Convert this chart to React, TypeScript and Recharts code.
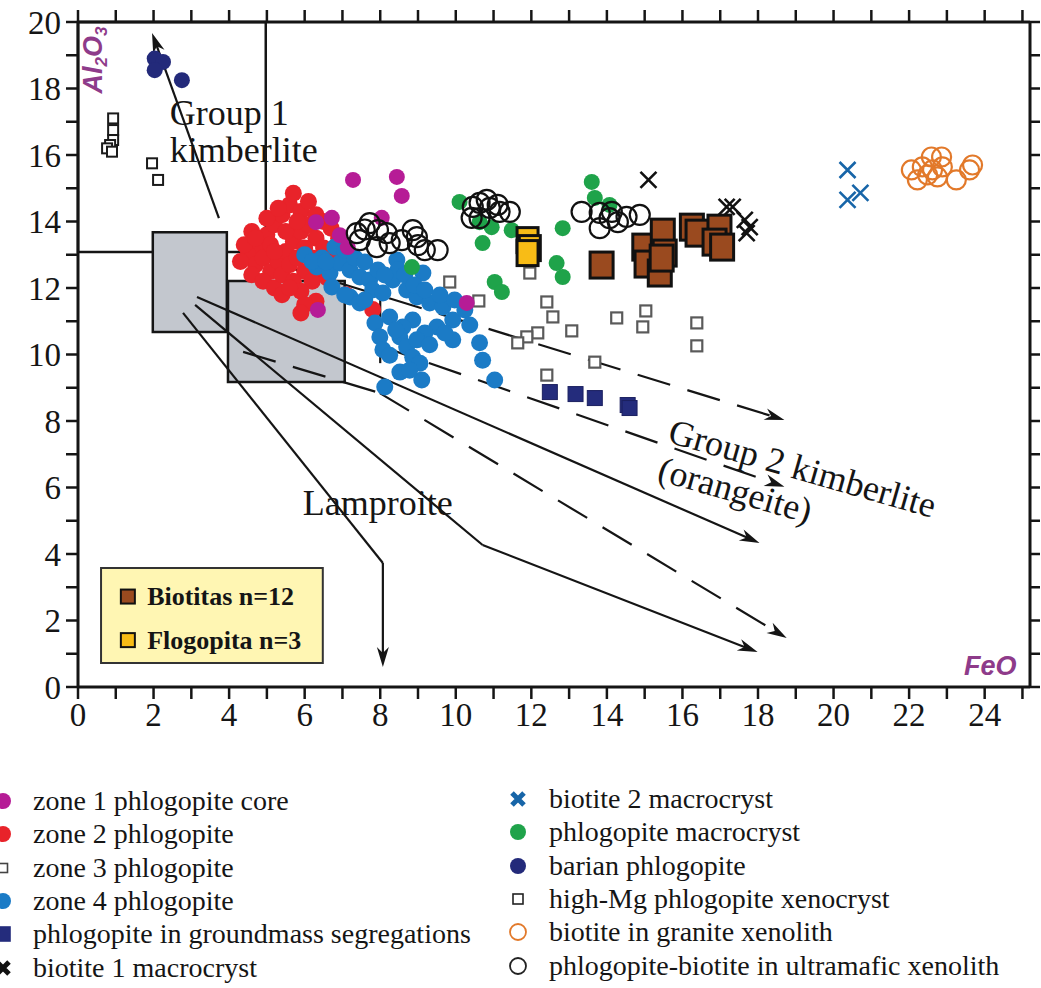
import React from 'react'
import {
  ScatterChart,
  Scatter,
  XAxis,
  YAxis,
  ReferenceArea,
  ReferenceLine,
  ReferenceDot,
} from 'recharts'

// [FeO, Al2O3] wt%
const xTicks = [0, 1, 2, 3, 4, 5, 6, 7, 8, 9, 10, 11, 12, 13, 14, 15, 16, 17, 18, 19, 20, 21, 22, 23, 24, 25]
const yTicks = [0, 1, 2, 3, 4, 5, 6, 7, 8, 9, 10, 11, 12, 13, 14, 15, 16, 17, 18, 19, 20]

const zone1Core = [
  [7.28, 15.25], [8.44, 15.34], [8.57, 14.77], [8.04, 14.11], [6.72, 14.11],
  [6.3, 13.98], [6.93, 13.59], [7.14, 13.23], [10.29, 11.55], [6.35, 11.34],
]

const zone2 = [
  [4.6, 13.7], [4.8, 13.2], [5.0, 13.6], [5.2, 13.9], [5.4, 14.2], [5.6, 14.5], [5.7, 14.85],
  [5.9, 14.3], [6.1, 14.6], [6.3, 14.2], [6.5, 14.0], [4.5, 13.0], [4.7, 12.7], [4.9, 12.9],
  [5.1, 12.5], [5.3, 12.8], [5.5, 13.1], [5.7, 13.4], [5.9, 13.7], [6.1, 13.9], [6.3, 13.5],
  [6.5, 13.2], [6.7, 13.8], [4.4, 13.3], [4.6, 12.4], [4.9, 12.2], [5.2, 12.0], [5.4, 12.4],
  [5.6, 12.7], [5.8, 12.9], [6.0, 13.2], [6.2, 12.9], [6.4, 12.6], [5.0, 14.1], [5.3, 14.4],
  [5.5, 13.7], [5.8, 14.0], [6.0, 12.5], [6.2, 12.2], [5.7, 12.2], [5.4, 11.8], [5.9, 11.9],
  [6.3, 11.6], [4.3, 12.8], [5.1, 13.3], [5.6, 12.0], [6.6, 12.3], [6.8, 12.9], [6.9, 13.5],
  [7.1, 11.8], [6.0, 11.5], [5.9, 11.25], [7.2, 13.0], [4.7, 13.5], [5.2, 13.1], [7.8, 11.35],
  [7.28, 12.93],
]

const zone3 = [
  [9.84, 12.18], [10.61, 11.61], [11.96, 12.45], [12.41, 11.58], [12.57, 11.13], [12.17, 10.65],
  [11.88, 10.53], [11.64, 10.35], [13.07, 10.71], [14.26, 11.1], [15.03, 11.31], [14.95, 10.83],
  [16.38, 10.95], [16.38, 10.26], [13.68, 9.77], [12.41, 9.38],
]

const zone4 = [
  [6.8, 13.23], [6.46, 12.9], [6.32, 12.63], [6.67, 12.45], [6.93, 12.75], [7.2, 12.54],
  [7.46, 12.33], [7.72, 12.24], [6.72, 12.03], [7.2, 11.73], [7.46, 11.55], [7.8, 11.94],
  [8.07, 11.85], [8.33, 12.24], [8.44, 12.84], [8.47, 12.54], [8.7, 11.94], [8.97, 11.73],
  [9.13, 12.45], [9.31, 11.55], [9.66, 11.43], [9.92, 11.04], [9.92, 10.44], [9.5, 10.83],
  [9.18, 10.65], [8.86, 11.04], [8.6, 10.83], [8.52, 10.53], [8.7, 10.23], [8.97, 10.44],
  [8.86, 9.92], [9.05, 9.74], [8.25, 11.13], [7.86, 10.95], [7.99, 10.53], [8.07, 10.14],
  [8.25, 9.98], [9.1, 9.23], [8.12, 9.02], [10.63, 10.35], [10.71, 9.83], [11.03, 9.23],
  [6.0, 13.0], [6.2, 12.8], [6.56, 12.78], [7.06, 13.14], [7.33, 12.9], [7.59, 12.78],
  [7.94, 12.54], [8.12, 12.39], [8.65, 12.39], [8.9, 12.09], [9.18, 11.94], [9.58, 11.79],
  [9.97, 11.64], [10.24, 11.34], [10.37, 10.89], [9.71, 10.65], [9.31, 10.29], [7.59, 11.64],
  [7.06, 11.79], [8.41, 10.74], [8.52, 9.47], [8.78, 9.53],
]

const groundmass = [[12.49, 8.87], [13.17, 8.81], [13.68, 8.69], [14.55, 8.48], [14.6, 8.39]]

const biotite1 = [[15.1, 15.25], [17.17, 14.44], [17.33, 14.44], [17.65, 14.05], [17.78, 13.83], [17.7, 13.65]]

const biotite2 = [[20.37, 15.55], [20.37, 14.65], [20.71, 14.86]]

const phlogMacro = [
  [10.1, 14.59], [10.71, 13.35], [11.03, 12.18], [11.22, 11.88], [10.95, 13.83], [11.48, 13.74],
  [10.63, 13.98], [12.83, 13.8], [12.67, 12.75], [12.83, 12.33], [13.6, 15.19], [13.68, 14.71],
  [14.07, 14.5], [8.84, 12.63],
]

const barian = [[2.03, 18.9], [2.25, 18.8], [2.03, 18.55], [2.75, 18.25]]

const highMg = [
  [0.93, 17.1], [0.93, 16.75], [0.93, 16.45], [0.85, 16.3], [0.77, 16.2], [0.9, 16.1],
  [1.96, 15.75], [2.12, 15.25],
]

const granite = [
  [22.06, 15.55], [22.22, 15.25], [22.35, 15.64], [22.59, 15.94], [22.86, 15.94], [22.62, 15.55],
  [22.75, 15.34], [22.88, 15.64], [23.25, 15.25], [23.6, 15.55], [23.68, 15.7], [22.49, 15.4],
]

const ultramafic = [
  [7.38, 13.65], [7.59, 13.76], [7.72, 13.95], [7.94, 13.74], [8.17, 13.65], [7.91, 13.23],
  [8.25, 13.35], [8.57, 13.44], [8.86, 13.74], [8.97, 13.53], [9.0, 13.29], [9.18, 13.14],
  [9.52, 13.14], [7.46, 13.44],
  [10.45, 14.44], [10.63, 14.56], [10.82, 14.65], [10.9, 14.41], [11.11, 14.5], [11.16, 14.29],
  [11.43, 14.29], [10.42, 14.11], [10.63, 14.1],
  [13.33, 14.29], [13.81, 14.26], [13.81, 13.8], [14.07, 14.1], [14.29, 13.98], [14.52, 14.14],
  [14.87, 14.2], [14.13, 14.29],
]

const biotitas = [
  [13.86, 12.69], [14.99, 13.23], [15.05, 12.72], [15.4, 12.45], [15.48, 13.68], [15.53, 13.05],
  [16.25, 13.83], [16.4, 13.65], [16.98, 13.8], [16.85, 13.38], [17.05, 13.23], [15.45, 12.9],
]

const flogopita = [[11.9, 13.44], [11.96, 13.2], [11.9, 13.05]]

// trend lines (vertices in FeO / Al2O3 units)
const group1Trend = [[3.73, 14.1], [1.96, 19.67]]
const group2TrendA = [[4.29, 13.07], [18.7, 8.03]]
const group2TrendB = [[7.99, 10.26], [18.7, 6.02]]
const orangeiteTrendA = [[3.15, 11.73], [18.04, 4.33]]
const orangeiteTrendB = [[4.37, 10.08], [7.99, 8.84], [18.76, 1.47]]
const orangeiteTrendC = [[3.1, 11.49], [10.71, 4.27], [17.99, 1.05]]
const lamproiteTrend = [[2.78, 11.25], [8.07, 3.73], [8.07, 0.6]]
const stemLine = [[8, 11.7], [8, 9.74]]

const toPts = (a: number[][]) => a.map(([x, y]) => ({ x, y }))

const INK = '#151515'
const SERIF = '"Liberation Serif", "Times New Roman", serif'
const SANS = '"Liberation Sans", Arial, sans-serif'

const dot = (fill: string, r = 8) => (p: any) => <circle cx={p.cx} cy={p.cy} r={r} fill={fill} />
const ring = (stroke: string, r = 9.5) => (p: any) => (
  <circle cx={p.cx} cy={p.cy} r={r} fill="none" stroke={stroke} strokeWidth={2.2} />
)
const box = (fill: string, stroke: string, w: number, h: number, sw: number) => (p: any) => (
  <rect x={p.cx - w / 2} y={p.cy - h / 2} width={w} height={h} fill={fill} stroke={stroke} strokeWidth={sw} />
)
const cross = (stroke: string, s = 8) => (p: any) => (
  <path
    d={`M${p.cx - s},${p.cy - s}L${p.cx + s},${p.cy + s}M${p.cx + s},${p.cy - s}L${p.cx - s},${p.cy + s}`}
    stroke={stroke}
    strokeWidth={2.6}
    fill="none"
  />
)
const none = () => <g />

const segShape = (dashed: boolean, arrow: boolean) => (p: any) => {
  const x1 = Number(p.x1), y1 = Number(p.y1), x2 = Number(p.x2), y2 = Number(p.y2)
  const len = Math.hypot(x2 - x1, y2 - y1) || 1
  const ux = (x2 - x1) / len, uy = (y2 - y1) / len
  const nx = -uy, ny = ux
  const bx = x2 - ux * 20, by = y2 - uy * 20
  const head = `${x2},${y2} ${bx + nx * 6},${by + ny * 6} ${x2 - ux * 14},${y2 - uy * 14} ${bx - nx * 6},${by - ny * 6}`
  return (
    <g>
      <line
        x1={x1}
        y1={y1}
        x2={arrow ? x2 - ux * 8 : x2}
        y2={arrow ? y2 - uy * 8 : y2}
        stroke={INK}
        strokeWidth={2.2}
        strokeDasharray={dashed ? '34 18' : undefined}
      />
      {arrow && <polygon points={head} fill={INK} />}
    </g>
  )
}

const renderTrend = (pts: number[][], dashed: boolean, key: string, arrow = true) =>
  pts.slice(1).map((pt, i) => (
    <ReferenceLine
      key={`${key}-${i}`}
      segment={[{ x: pts[i][0], y: pts[i][1] }, { x: pt[0], y: pt[1] }]}
      shape={segShape(dashed, arrow && i === pts.length - 2)}
      ifOverflow="visible"
    />
  ))

const textAt = (content: React.ReactNode, opts: { size?: number; rotate?: number; anchor?: string; family?: string; weight?: string | number; style?: string; fill?: string } = {}) =>
  (p: any) => (
    <text
      x={p.cx}
      y={p.cy}
      transform={opts.rotate ? `rotate(${opts.rotate} ${p.cx} ${p.cy})` : undefined}
      fontSize={opts.size ?? 36}
      fontFamily={opts.family ?? SERIF}
      fontWeight={opts.weight ?? 'normal'}
      fontStyle={opts.style ?? 'normal'}
      textAnchor={opts.anchor ?? 'start'}
      fill={opts.fill ?? INK}
    >
      {content}
    </text>
  )

const PURPLE = '#8E3B8A'

const axisTick = { fontSize: 33, fill: INK, fontFamily: SERIF }
const evenOnly = (v: number) => (v % 2 === 0 ? String(v) : '')
const blank = () => ''

type LegendRow = { label: string; marker: (x: number, y: number) => React.ReactNode }

const mDot = (fill: string) => (x: number, y: number) => <circle cx={x} cy={y} r={8} fill={fill} />
const mRing = (stroke: string) => (x: number, y: number) => <circle cx={x} cy={y} r={8} fill="none" stroke={stroke} strokeWidth={1.8} />
const mSq = (fill: string, stroke: string, s: number) => (x: number, y: number) => (
  <rect x={x - s / 2} y={y - s / 2} width={s} height={s} fill={fill} stroke={stroke} strokeWidth={1.6} />
)
const mX = (stroke: string) => (x: number, y: number) => (
  <path d={`M${x - 6},${y - 6}L${x + 6},${y + 6}M${x + 6},${y - 6}L${x - 6},${y + 6}`} stroke={stroke} strokeWidth={5} />
)

const leftLegend: LegendRow[] = [
  { label: 'zone 1 phlogopite core', marker: mDot('#B61C96') },
  { label: 'zone 2 phlogopite', marker: mDot('#E8232A') },
  { label: 'zone 3 phlogopite', marker: mSq('#fff', '#444', 9) },
  { label: 'zone 4 phlogopite', marker: mDot('#1B7BC6') },
  { label: 'phlogopite in groundmass segregations', marker: mSq('#242C7C', '#242C7C', 14) },
  { label: 'biotite 1 macrocryst', marker: mX('#111') },
]
const rightLegend: LegendRow[] = [
  { label: 'biotite 2 macrocryst', marker: mX('#1765A8') },
  { label: 'phlogopite macrocryst', marker: mDot('#1FA34A') },
  { label: 'barian phlogopite', marker: mDot('#232A7A') },
  { label: 'high-Mg phlogopite xenocryst', marker: mSq('#fff', '#222', 10) },
  { label: 'biotite in granite xenolith', marker: mRing('#E2792A') },
  { label: 'phlogopite-biotite in ultramafic xenolith', marker: mRing('#222') },
]
const legendBaselines = [50, 83, 117, 150, 183, 217]

function BottomLegend() {
  return (
    <svg width={1041} height={228} style={{ position: 'absolute', left: 0, top: 760 }}>
      {leftLegend.map((row, i) => (
        <g key={row.label}>
          {row.marker(3, legendBaselines[i] - 9)}
          <text x={33} y={legendBaselines[i]} fontSize={28} fontFamily={SERIF} fill={INK}>
            {row.label}
          </text>
        </g>
      ))}
      {rightLegend.map((row, i) => (
        <g key={row.label}>
          {row.marker(518, legendBaselines[i] - 11)}
          <text x={549} y={legendBaselines[i] - 2} fontSize={28} fontFamily={SERIF} fill={INK}>
            {row.label}
          </text>
        </g>
      ))}
    </svg>
  )
}

const frame = { stroke: INK, strokeWidth: 3 }
const tickStroke = { stroke: INK, strokeWidth: 2.5 }

export default function App() {
  return (
    <div style={{ position: 'absolute', left: 0, top: 0, width: 1041, height: 988, background: '#fff', overflow: 'hidden' }}>
      <ScatterChart
        width={1041}
        height={988}
        margin={{ top: 21, right: 10, bottom: 300, left: 77 }}
        style={{ fontFamily: SERIF }}
      >
        <XAxis
          type="number"
          dataKey="x"
          domain={[0, 25.2]}
          ticks={xTicks}
          interval={0}
          tickFormatter={evenOnly}
          tick={axisTick}
          tickSize={12}
          tickMargin={4}
          height={1}
          axisLine={frame}
          tickLine={tickStroke}
          allowDataOverflow
        />
        <XAxis
          xAxisId="top"
          orientation="top"
          type="number"
          dataKey="x"
          domain={[0, 25.2]}
          ticks={xTicks}
          interval={0}
          tickFormatter={blank}
          tickSize={12}
          height={1}
          axisLine={frame}
          tickLine={tickStroke}
          allowDataOverflow
        />
        <YAxis
          type="number"
          dataKey="y"
          domain={[0, 20]}
          ticks={yTicks}
          interval={0}
          tickFormatter={evenOnly}
          tick={axisTick}
          tickSize={12}
          tickMargin={5}
          width={1}
          axisLine={frame}
          tickLine={tickStroke}
          allowDataOverflow
        />
        <YAxis
          yAxisId="right"
          orientation="right"
          type="number"
          dataKey="y"
          domain={[0, 20]}
          ticks={yTicks}
          interval={0}
          tickFormatter={blank}
          tickSize={10}
          width={1}
          axisLine={frame}
          tickLine={tickStroke}
          allowDataOverflow
        />

        {/* hidden series binding the mirrored top/right axes */}
        <Scatter xAxisId="top" yAxisId="right" data={toPts(granite)} shape={none} isAnimationActive={false} />

        {/* Group 1 kimberlite field */}
        <ReferenceArea x1={0} x2={4.97} y1={13.08} y2={20} fill="none" stroke={INK} strokeWidth={2.5} ifOverflow="visible" />
        {/* lamproite boxes */}
        <ReferenceArea x1={1.98} x2={3.94} y1={10.68} y2={13.68} fill="#C3C7CE" fillOpacity={1} stroke={INK} strokeWidth={2.5} />
        <ReferenceArea x1={3.97} x2={7.06} y1={9.17} y2={12.21} fill="#C3C7CE" fillOpacity={1} stroke={INK} strokeWidth={2.5} />

        <Scatter data={toPts(zone3)} shape={box('#fff', '#5a5a5a', 11, 11, 2.2)} isAnimationActive={false} />
        <Scatter data={toPts(highMg)} shape={box('#fff', '#1a1a1a', 10, 10, 2)} isAnimationActive={false} />
        <Scatter data={toPts(zone2)} shape={dot('#E8232A', 8.5)} isAnimationActive={false} />
        <Scatter data={toPts(zone4)} shape={dot('#1B7BC6', 8.5)} isAnimationActive={false} />
        <Scatter data={toPts(zone1Core)} shape={dot('#B61C96', 8)} isAnimationActive={false} />
        <Scatter data={toPts(phlogMacro)} shape={dot('#1FA34A', 8)} isAnimationActive={false} />
        <Scatter data={toPts(ultramafic)} shape={ring('#111', 10)} isAnimationActive={false} />
        <Scatter data={toPts(barian)} shape={dot('#232A7A', 8)} isAnimationActive={false} />
        <Scatter data={toPts(groundmass)} shape={box('#242C7C', '#1b2060', 15, 15, 1)} isAnimationActive={false} />
        <Scatter data={toPts(biotite1)} shape={cross('#111', 8)} isAnimationActive={false} />
        <Scatter data={toPts(biotite2)} shape={cross('#1765A8', 8)} isAnimationActive={false} />
        <Scatter data={toPts(granite)} shape={ring('#E2792A', 9.5)} isAnimationActive={false} />
        <Scatter data={toPts(biotitas)} shape={box('#9A4A1F', '#111', 23, 26, 3)} isAnimationActive={false} />
        <Scatter data={toPts(flogopita)} shape={box('#F8BC16', '#111', 21, 25, 3)} isAnimationActive={false} />

        {renderTrend(group1Trend, false, 'g1')}
        {renderTrend(group2TrendA, true, 'g2a')}
        {renderTrend(group2TrendB, true, 'g2b')}
        {renderTrend(orangeiteTrendA, false, 'oa')}
        {renderTrend(orangeiteTrendB, true, 'ob')}
        {renderTrend(orangeiteTrendC, false, 'oc')}
        {renderTrend(lamproiteTrend, false, 'lp')}
        {renderTrend(stemLine, false, 'st', false)}

        {/* annotations */}
        <ReferenceDot x={2.43} y={16.9} r={0} shape={textAt('Group 1')} ifOverflow="visible" />
        <ReferenceDot x={2.43} y={15.8} r={0} shape={textAt('kimberlite')} ifOverflow="visible" />
        <ReferenceDot x={5.95} y={5.17} r={0} shape={textAt('Lamproite')} ifOverflow="visible" />
        <ReferenceDot x={15.58} y={7.37} r={0} shape={textAt('Group 2 kimberlite', { rotate: 16 })} ifOverflow="visible" />
        <ReferenceDot x={15.3} y={6.23} r={0} shape={textAt('(orangeite)', { rotate: 16 })} ifOverflow="visible" />
        <ReferenceDot
          x={0.63}
          y={18.86}
          r={0}
          ifOverflow="visible"
          shape={textAt(
            <>
              Al<tspan fontSize={17} dy={5}>2</tspan>
              <tspan dy={-5}>O</tspan>
              <tspan fontSize={17} dy={5}>3</tspan>
            </>,
            { rotate: -90, anchor: 'middle', family: SANS, weight: 'bold', style: 'italic', size: 27, fill: PURPLE },
          )}
        />
        <ReferenceDot
          x={24.15}
          y={0.36}
          r={0}
          ifOverflow="visible"
          shape={textAt('FeO', { anchor: 'middle', family: SANS, weight: 'bold', style: 'italic', size: 27, fill: PURPLE })}
        />

        {/* in-plot key */}
        <ReferenceArea x1={0.61} x2={6.48} y1={0.72} y2={3.58} fill="#FFF6B3" fillOpacity={1} stroke="#333" strokeWidth={2} />
        <ReferenceDot x={1.32} y={2.72} r={0} shape={(p: any) => <rect x={p.cx - 7} y={p.cy - 7} width={14} height={14} fill="#9A4A1F" stroke="#111" strokeWidth={2} />} />
        <ReferenceDot x={1.32} y={1.41} r={0} shape={(p: any) => <rect x={p.cx - 7} y={p.cy - 7} width={14} height={14} fill="#F8BC16" stroke="#111" strokeWidth={2} />} />
        <ReferenceDot x={1.83} y={2.46} r={0} shape={textAt('Biotitas n=12', { size: 26, weight: 'bold' })} />
        <ReferenceDot x={1.83} y={1.15} r={0} shape={textAt('Flogopita n=3', { size: 26, weight: 'bold' })} />
      </ScatterChart>
      <BottomLegend />
    </div>
  )
}
